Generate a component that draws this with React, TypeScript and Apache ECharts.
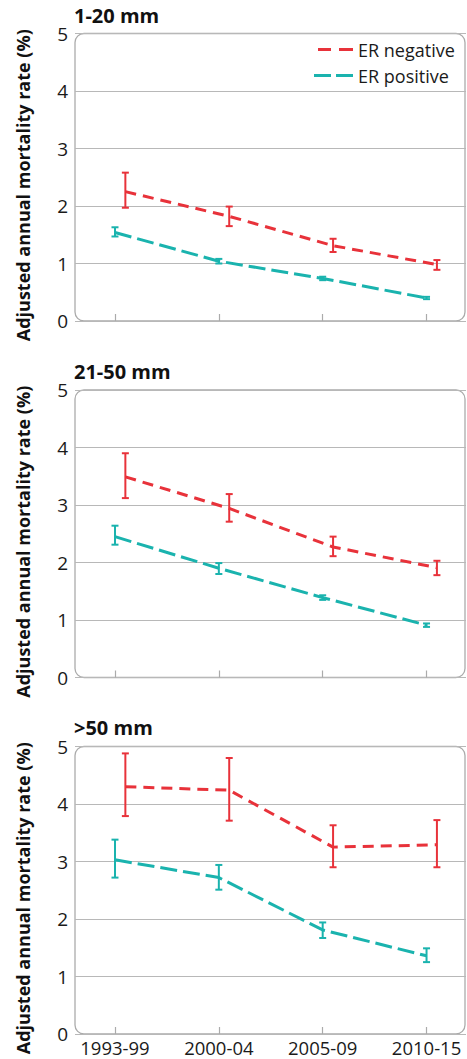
import React, { useEffect, useRef } from "react";
import * as echarts from "echarts";

const periods = ["1993-99", "2000-04", "2005-09", "2010-15"];
const panelTitles = ["1-20 mm", "21-50 mm", ">50 mm"];
const seriesNames = ["ER negative", "ER positive"];
const yTicks = [0, 1, 2, 3, 4, 5];

// ER negative: mean, lower and upper bound per panel
const erNegMean = [
  [2.25, 1.82, 1.31, 0.98],
  [3.49, 2.94, 2.27, 1.91],
  [4.3, 4.24, 3.25, 3.29],
];
const erNegLow = [
  [1.97, 1.65, 1.2, 0.89],
  [3.12, 2.71, 2.11, 1.78],
  [3.79, 3.71, 2.9, 2.9],
];
const erNegHigh = [
  [2.58, 1.99, 1.43, 1.06],
  [3.9, 3.19, 2.45, 2.03],
  [4.88, 4.8, 3.63, 3.72],
];

// ER positive
const erPosMean = [
  [1.54, 1.04, 0.74, 0.4],
  [2.45, 1.9, 1.39, 0.91],
  [3.03, 2.72, 1.81, 1.36],
];
const erPosLow = [
  [1.47, 1.0, 0.71, 0.38],
  [2.31, 1.8, 1.35, 0.88],
  [2.72, 2.51, 1.67, 1.25],
];
const erPosHigh = [
  [1.63, 1.08, 0.77, 0.42],
  [2.64, 1.99, 1.43, 0.94],
  [3.38, 2.94, 1.94, 1.49],
];

const RED = "#e8323a";
const TEAL = "#1ab3ae";
const GRAY = "#ababab";
const FONT = "Open Sans";
const NEG_OFFSET = 0.1;

const GRID_LEFT = 75;
const GRID_WIDTH = 391;
const GRID_HEIGHT = 287.5;
const GRID_TOPS = [33.5, 390, 746.5];
const TITLE_TOPS = [5, 361.5, 717];

function errorBarRender(color: string) {
  return (params: any, api: any) => {
    const x = api.value(0);
    const lo = api.coord([x, api.value(1)]);
    const hi = api.coord([x, api.value(2)]);
    const hw = 3.5;
    const style = { stroke: color, lineWidth: 2 };
    return {
      type: "group",
      children: [
        { type: "line", shape: { x1: lo[0], y1: lo[1], x2: hi[0], y2: hi[1] }, style },
        { type: "line", shape: { x1: lo[0] - hw, y1: lo[1], x2: lo[0] + hw, y2: lo[1] }, style },
        { type: "line", shape: { x1: hi[0] - hw, y1: hi[1], x2: hi[0] + hw, y2: hi[1] }, style },
      ],
    };
  };
}

export default function App() {
  const ref = useRef<HTMLDivElement>(null);

  useEffect(() => {
    if (!ref.current) return;
    const chart = echarts.init(ref.current, null, { renderer: "svg" });

    const grids: any[] = [];
    const xAxes: any[] = [];
    const yAxes: any[] = [];
    const titles: any[] = [];
    const series: any[] = [];
    const graphics: any[] = [];

    panelTitles.forEach((t, p) => {
      grids.push({
        left: GRID_LEFT,
        top: GRID_TOPS[p],
        width: GRID_WIDTH,
        height: GRID_HEIGHT,
      });
      titles.push({
        text: t,
        left: GRID_LEFT - 1,
        top: TITLE_TOPS[p],
        padding: 0,
        textStyle: { fontFamily: FONT, fontSize: 20, fontWeight: "bold", color: "#111" },
      });
      const isLast = p === panelTitles.length - 1;
      xAxes.push({
        type: "value",
        gridIndex: p,
        min: -0.385,
        max: 3.38,
        axisLine: { show: false },
        splitLine: { show: false },
        axisTick: {
          show: true,
          inside: true,
          length: 7,
          customValues: periods.map((_, i) => i),
          lineStyle: { color: GRAY, width: 1.2 },
        },
        axisLabel: {
          show: isLast,
          customValues: periods.map((_, i) => i),
          formatter: (v: number) => periods[Math.round(v)] ?? "",
          fontFamily: FONT,
          fontSize: 18.5,
          lineHeight: 18,
          color: "#1a1a1a",
          margin: 4,
        },
      });
      yAxes.push({
        type: "value",
        gridIndex: p,
        min: 0,
        max: 5,
        interval: 1,
        axisLine: { show: false },
        axisTick: { show: false },
        splitLine: { show: true, lineStyle: { color: "#b8b8b8", width: 1.2 } },
        axisLabel: {
          fontFamily: FONT,
          fontSize: 19,
          color: "#1a1a1a",
          margin: 7,
          formatter: (v: number) => (yTicks.includes(v) ? String(v) : ""),
        },
        name: "Adjusted annual mortality rate (%)",
        nameLocation: "middle",
        nameGap: 43,
        nameTextStyle: {
          fontFamily: FONT,
          fontSize: 18,
          fontWeight: "bold",
          color: "#111",
          padding: [0, 16, 0, 0],
        },
      });

      graphics.push({
        type: "rect",
        z: 0,
        silent: true,
        shape: { x: GRID_LEFT, y: GRID_TOPS[p], width: GRID_WIDTH - 1, height: GRID_HEIGHT, r: 9 },
        style: { fill: "none", stroke: GRAY, lineWidth: 1.3 },
      });

      series.push({
        name: seriesNames[1],
        type: "line",
        xAxisIndex: p,
        yAxisIndex: p,
        symbol: "none",
        z: 3,
        lineStyle: { color: TEAL, width: 3, type: [17, 6] },
        itemStyle: { color: TEAL },
        data: erPosMean[p].map((v, i) => [i, v]),
      });
      series.push({
        name: seriesNames[0],
        type: "line",
        xAxisIndex: p,
        yAxisIndex: p,
        symbol: "none",
        z: 3,
        lineStyle: { color: RED, width: 3, type: [11, 7] },
        itemStyle: { color: RED },
        data: erNegMean[p].map((v, i) => [i + NEG_OFFSET, v]),
      });
      series.push({
        name: seriesNames[1],
        type: "custom",
        xAxisIndex: p,
        yAxisIndex: p,
        z: 4,
        renderItem: errorBarRender(TEAL),
        encode: { x: 0, y: [1, 2] },
        data: erPosMean[p].map((_, i) => [i, erPosLow[p][i], erPosHigh[p][i]]),
      });
      series.push({
        name: seriesNames[0],
        type: "custom",
        xAxisIndex: p,
        yAxisIndex: p,
        z: 4,
        renderItem: errorBarRender(RED),
        encode: { x: 0, y: [1, 2] },
        data: erNegMean[p].map((_, i) => [i + NEG_OFFSET, erNegLow[p][i], erNegHigh[p][i]]),
      });
    });

    const legendText = { fontFamily: FONT, fontSize: 18, color: "#1a1a1a" };
    chart.setOption({
      animation: false,
      backgroundColor: "#ffffff",
      title: titles,
      grid: grids,
      xAxis: xAxes,
      yAxis: yAxes,
      series,
      graphic: graphics,
      legend: [
        {
          data: [
            { name: seriesNames[0], icon: "path://M0,0h13v3h-13z M21,0h14v3h-14z" },
          ],
          left: 318,
          top: 40.5,
          padding: 0,
          itemWidth: 35,
          itemHeight: 3,
          selectedMode: false,
          textStyle: legendText,
        },
        {
          data: [
            { name: seriesNames[1], icon: "path://M0,0h17v3h-17z M22,0h17v3h-17z" },
          ],
          left: 314,
          top: 66.5,
          padding: 0,
          itemWidth: 39,
          itemHeight: 3,
          selectedMode: false,
          textStyle: legendText,
        },
      ],
    });

    return () => chart.dispose();
  }, []);

  return (
    <div
      ref={ref}
      style={{ position: "absolute", left: 0, top: 0, width: 467, height: 1059 }}
    />
  );
}
